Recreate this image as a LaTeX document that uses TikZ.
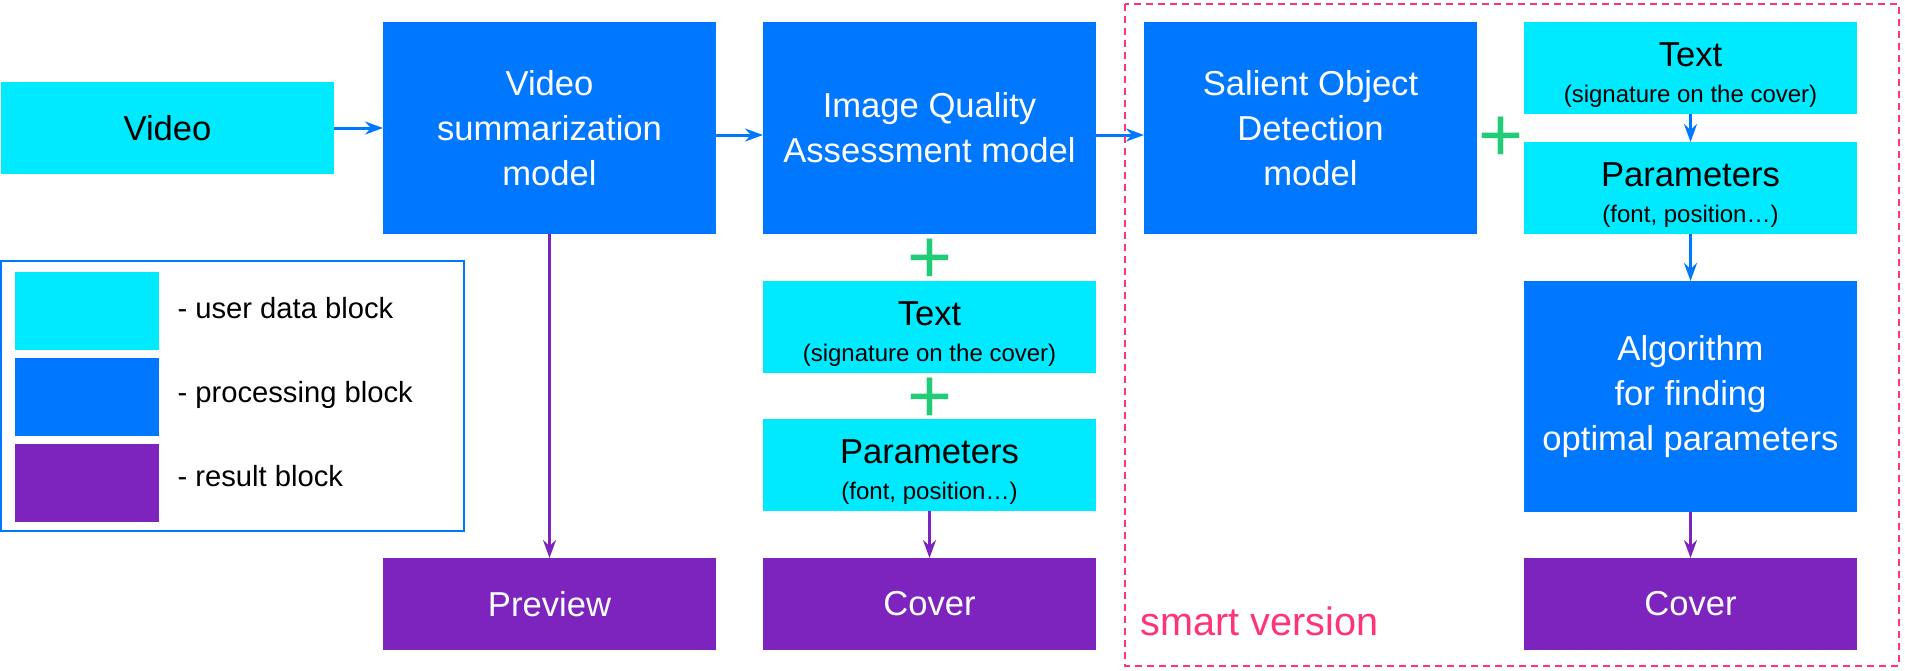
\documentclass[tikz,border=0pt]{standalone}
\usepackage{fontspec}
\setmainfont{Liberation Sans}
\usepackage{tikz}
\usetikzlibrary{positioning, arrows.meta, calc}
\definecolor{userclr}{RGB}{0,234,255}
\definecolor{procclr}{RGB}{0,119,255}
\definecolor{resclr}{RGB}{126,36,190}
\definecolor{plusclr}{RGB}{34,204,119}
\definecolor{smartclr}{RGB}{255,51,119}
\tikzstyle{blk}=[rectangle, inner sep=0pt, outer sep=0pt, minimum width=166.5pt, align=center, font=\fontsize{17.3}{22.5}\selectfont]
\tikzstyle{userblk}=[blk, fill=userclr, text=black, minimum height=46pt]
\tikzstyle{procblk}=[blk, fill=procclr, text=white, minimum height=106pt]
\tikzstyle{resblk}=[blk, fill=resclr, text=white, minimum height=46pt]
\tikzstyle{plussign}=[inner xsep=0pt, inner ysep=-2.5pt, text=plusclr, font=\fontsize{38.5}{38.5}\selectfont]
\tikzstyle{legtxt}=[inner sep=0pt, font=\fontsize{14.6}{17}\selectfont]
\newcommand{\twoln}[2]{\rule{0pt}{18.5pt}#1\\[-4.5pt]{\fontsize{12}{14}\selectfont #2}}

\begin{document}
\begin{tikzpicture}[> = {Stealth[length=9pt, width=6.5pt, inset=3pt]}, line width=1.5pt]
    \useasboundingbox (0,0) rectangle (952.5pt,-335pt);
    % main row
    \node [procblk] (vsm) at (274.75pt,-64pt) {Video\\summarization\\model};
    \node [userblk] (video) [left=24.5pt of vsm] {Video};
    \node [procblk] (iqa) [right=23.5pt of vsm] {Image Quality\\Assessment model};
    \node [procblk] (sod) [right=24pt of iqa] {Salient Object\\Detection\\model};
    % simple version
    \node [resblk] (prev) [below=162pt of vsm] {Preview};
    \node [userblk] (txtM) [below=23.5pt of iqa] {\twoln{Text}{(signature on the cover)}};
    \node [userblk] (parM) [below=23pt of txtM] {\twoln{Parameters}{(font, position\dots)}};
    \node [resblk] (covM) [below=23.5pt of parM] {Cover};
    % smart version
    \node [userblk] (txtR) [right=23.5pt of sod.north east, anchor=north west] {\twoln{Text}{(signature on the cover)}};
    \node [userblk] (parR) [below=14pt of txtR] {\twoln{Parameters}{(font, position\dots)}};
    \node [procblk, minimum height=115.5pt] (algR) [below=23.5pt of parR] {Algorithm\\for finding\\optimal parameters};
    \node [resblk] (covR) [below=23pt of algR] {Cover};
    % pluses
    \node [plussign] (pl1) at ($(sod.east)+(11.75pt,-5.5pt)$) {+};
    \node [plussign] (pl2) at ($(iqa.south)!0.5!(txtM.north)+(0,-2pt)$) {+};
    \node [plussign] (pl3) at ($(txtM.south)!0.5!(parM.north)+(0,-2pt)$) {+};
    % connectors
    \draw [->, procclr] (video) -- (vsm);
    \draw [->, procclr] ([yshift=-3.5pt]vsm.east) -- ([yshift=-3.5pt]iqa.west);
    \draw [->, procclr] ([yshift=-3.5pt]iqa.east) -- ([yshift=-3.5pt]sod.west);
    \draw [->, procclr] (txtR) -- (parR);
    \draw [->, procclr] (parR) -- (algR);
    \draw [->, resclr] (vsm) -- (prev);
    \draw [->, resclr] (parM) -- (covM);
    \draw [->, resclr] (algR) -- (covR);
    % smart frame
    \draw [smartclr, line width=0.8pt, dash pattern=on 3.5pt off 2.5pt] (562.5pt,-2pt) rectangle (949.5pt,-333pt);
    \node [inner sep=0pt, anchor=base west, text=smartclr, font=\fontsize{19.8}{24}\selectfont] (smart) at (569.5pt,-317.5pt) {smart version};
    % legend
    \node [draw=procclr, line width=1pt, inner sep=0pt, minimum width=231.5pt, minimum height=135pt] (leg) at (116.25pt,-198pt) {};
    \node [userblk, minimum width=72pt, minimum height=39pt] (sw1) at (43.5pt,-155.5pt) {};
    \node [procblk, minimum width=72pt, minimum height=39pt] (sw2) [below=4pt of sw1] {};
    \node [resblk, minimum width=72pt, minimum height=39pt] (sw3) [below=4pt of sw2] {};
    \node [legtxt, anchor=base west] (lt1) at ($(sw1.east)+(8.5pt,-3.5pt)$) {- user data block};
    \node [legtxt, anchor=base west] (lt2) at ($(sw2.east)+(8.5pt,-2.5pt)$) {- processing block};
    \node [legtxt, anchor=base west] (lt3) at ($(sw3.east)+(8.5pt,-1.6pt)$) {- result block};
\end{tikzpicture}
\end{document}
